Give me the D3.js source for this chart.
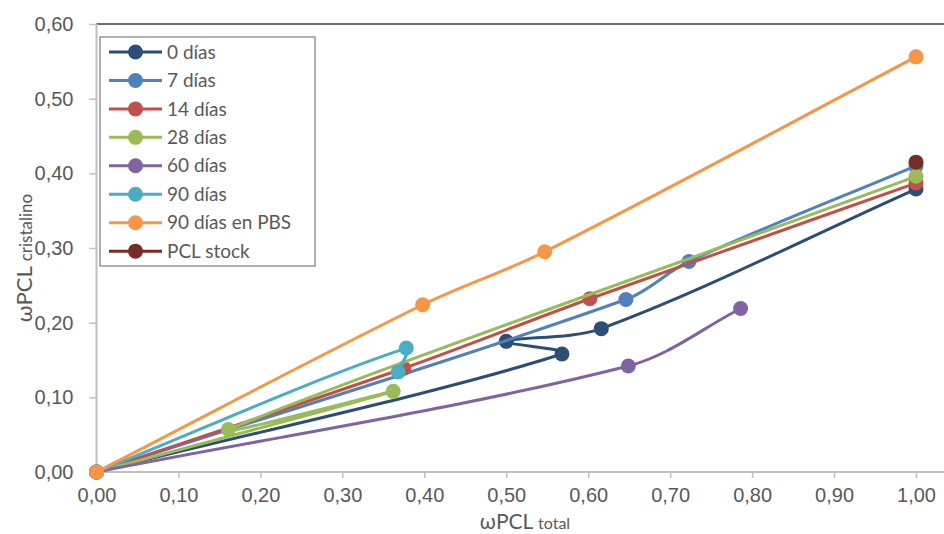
<!DOCTYPE html>
<html>
<head>
<meta charset="utf-8">
<script src="https://cdn.jsdelivr.net/npm/d3@7"></script>
<style>
  html, body { margin: 0; padding: 0; background: #ffffff; }
  svg { display: block; font-family: Lato, "Open Sans", sans-serif; }
</style>
</head>
<body>
<svg id="chart" width="944" height="534"></svg>
<script>
// Series labels and colours (legend order = drawing order)
const seriesNames = ["0 días", "7 días", "14 días", "28 días", "60 días", "90 días", "90 días en PBS", "PCL stock"];
const seriesColors = ["#2c4d75", "#4f81bd", "#c0504d", "#9bbb59", "#8064a2", "#4bacc6", "#f79646", "#772c2a"];

// ωPCL total (x) and ωPCL cristalino (y) for each series, in measurement order
const dias0X   = [0, 0.568, 0.500, 0.616, 1.00];
const dias0Y   = [0, 0.158, 0.175, 0.192, 0.379];
const dias7X   = [0, 0.646, 0.723, 1.00];
const dias7Y   = [0, 0.231, 0.282, 0.410];
const dias14X  = [0, 0.375, 0.602, 1.00];
const dias14Y  = [0, 0.139, 0.232, 0.387];
const dias28X  = [0, 0.362, 0.161, 1.00];
const dias28Y  = [0, 0.108, 0.057, 0.396];
const dias60X  = [0, 0.649, 0.786];
const dias60Y  = [0, 0.142, 0.219];
const dias90X  = [0, 0.378, 0.368];
const dias90Y  = [0, 0.166, 0.134];
const pbsX     = [0, 0.398, 0.547, 1.00];
const pbsY     = [0, 0.224, 0.295, 0.556];
const stockX   = [1.00];
const stockY   = [0.415];

const xTicks = [0, 0.1, 0.2, 0.3, 0.4, 0.5, 0.6, 0.7, 0.8, 0.9, 1.0];
const yTicks = [0, 0.1, 0.2, 0.3, 0.4, 0.5, 0.6];

const seriesX = [dias0X, dias7X, dias14X, dias28X, dias60X, dias90X, pbsX, stockX];
const seriesY = [dias0Y, dias7Y, dias14Y, dias28Y, dias60Y, dias90Y, pbsY, stockY];

const series = seriesNames.map((name, i) => ({
  name,
  color: seriesColors[i],
  points: seriesX[i].map((xv, j) => ({ x: xv, y: seriesY[i][j] }))
}));

const svg = d3.select("#chart");
const plotLeft = 96.5, plotRight = 944, plotTop = 24, plotBottom = 472;

const x = d3.scaleLinear().domain([0, 1]).range([plotLeft, 916]);
const y = d3.scaleLinear().domain([0, 0.6]).range([plotBottom, plotTop]);

const fmt = v => d3.format(".2f")(v).replace(".", ",");
const tickColor = "#595959";
const axisGray = "#bfbfbf";

// Plot-area top border
svg.append("line")
  .attr("x1", plotLeft).attr("x2", plotRight)
  .attr("y1", plotTop).attr("y2", plotTop)
  .attr("stroke", "#6e6e6e").attr("stroke-width", 2);

// X axis
const gx = svg.append("g").attr("transform", `translate(0,${plotBottom})`)
  .call(d3.axisBottom(x).tickValues(xTicks).tickFormat(fmt).tickSize(6).tickPadding(10));
gx.select(".domain").remove();
gx.selectAll(".tick line").attr("stroke", axisGray).attr("stroke-width", 1.5);
gx.selectAll(".tick text").attr("fill", tickColor).style("font-size", "20px");
gx.append("line").attr("x1", plotLeft).attr("x2", plotRight)
  .attr("stroke", axisGray).attr("stroke-width", 2);

// Y axis
const gy = svg.append("g").attr("transform", `translate(${plotLeft},0)`)
  .call(d3.axisLeft(y).tickValues(yTicks).tickFormat(fmt).tickSize(7).tickPadding(16));
gy.select(".domain").remove();
gy.selectAll(".tick line").attr("stroke", axisGray).attr("stroke-width", 1.5);
gy.selectAll(".tick text").attr("fill", tickColor).style("font-size", "20px");
gy.append("line").attr("y1", plotTop).attr("y2", plotBottom)
  .attr("stroke", axisGray).attr("stroke-width", 2);

// Axis titles
const xt = svg.append("text").attr("x", 525).attr("y", 529)
  .attr("text-anchor", "middle").attr("fill", tickColor).style("font-size", "21px");
xt.append("tspan").text("ωPCL ");
xt.append("tspan").style("font-size", "16px").text("total");

const yt = svg.append("text")
  .attr("transform", "translate(32,258) rotate(-90)")
  .attr("text-anchor", "middle").attr("fill", tickColor).style("font-size", "22px");
yt.append("tspan").text("ωPCL ");
yt.append("tspan").style("font-size", "17px").text("cristalino");

// Smoothed path through points: cubic Bézier segments whose handle lengths
// follow each segment's own length, so long segments stay nearly straight.
function smoothPath(pts) {
  const p = pts.map(d => [x(d.x), y(d.y)]);
  const n = p.length;
  const dist = (a, b) => Math.hypot(b[0] - a[0], b[1] - a[1]);
  const tangent = i => {
    const a = p[Math.max(i - 1, 0)], b = p[Math.min(i + 1, n - 1)];
    const l1 = i > 0 ? dist(p[i - 1], p[i]) : 0;
    const l2 = i < n - 1 ? dist(p[i], p[i + 1]) : 0;
    const s = l1 + l2 || 1;
    return [(b[0] - a[0]) / s, (b[1] - a[1]) / s];
  };
  const path = d3.path();
  path.moveTo(p[0][0], p[0][1]);
  for (let i = 0; i < n - 1; i++) {
    const L = dist(p[i], p[i + 1]);
    const t0 = tangent(i), t1 = tangent(i + 1);
    path.bezierCurveTo(
      p[i][0] + t0[0] * L / 3, p[i][1] + t0[1] * L / 3,
      p[i + 1][0] - t1[0] * L / 3, p[i + 1][1] - t1[1] * L / 3,
      p[i + 1][0], p[i + 1][1]);
  }
  return path.toString();
}

// Series: smoothed line then markers
const gSeries = svg.append("g");
series.forEach(s => {
  const g = gSeries.append("g");
  if (s.points.length > 1) {
    g.append("path").attr("d", smoothPath(s.points))
      .attr("fill", "none").attr("stroke", s.color)
      .attr("stroke-width", 3).attr("stroke-linejoin", "round").attr("stroke-linecap", "round");
  }
  g.selectAll("circle").data(s.points).join("circle")
    .attr("cx", d => x(d.x)).attr("cy", d => y(d.y)).attr("r", 7.5)
    .attr("fill", s.color);
});

// Legend
const lg = svg.append("g");
lg.append("rect").attr("x", 100).attr("y", 37).attr("width", 215).attr("height", 229)
  .attr("fill", "#ffffff").attr("stroke", "#868686").attr("stroke-width", 1.3);
series.forEach((s, i) => {
  const cy = 52 + i * 28.45;
  lg.append("line").attr("x1", 109).attr("x2", 162).attr("y1", cy).attr("y2", cy)
    .attr("stroke", s.color).attr("stroke-width", 3);
  lg.append("circle").attr("cx", 135.5).attr("cy", cy).attr("r", 7.5).attr("fill", s.color);
  lg.append("text").attr("x", 167).attr("y", cy).attr("dy", "0.35em")
    .attr("fill", tickColor).style("font-size", "19px").text(s.name);
});
</script>
</body>
</html>
